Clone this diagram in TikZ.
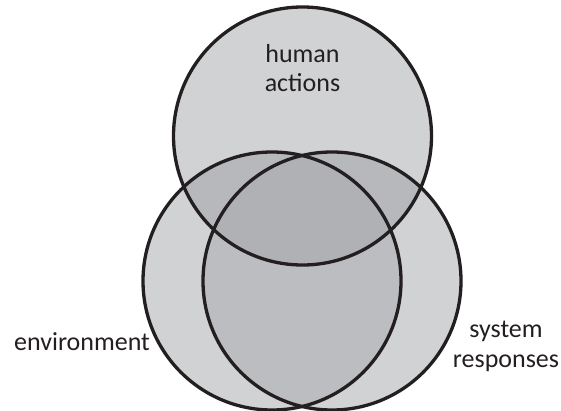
\documentclass[tikz,border=0pt]{standalone}
\usepackage{fontspec}
\setmainfont{Carlito}
\usepackage{tikz}
\definecolor{ring}{HTML}{231F20}
\definecolor{one}{HTML}{D1D2D4}
\definecolor{lens}{HTML}{BCBDC0}
\definecolor{two}{HTML}{B7B8BB}
\definecolor{three}{HTML}{B0B1B4}

\begin{document}
\begin{tikzpicture}[x=1pt,y=1pt,
    lbl/.style={align=center,inner sep=0pt,text=ring,
      font=\fontsize{26}{29.5}\selectfont}]
        \useasboundingbox (0,0) rectangle (561,410);
        \def\rad{129}
        \coordinate (act) at (302.5,274);
        \coordinate (env) at (272,129);
        \coordinate (sys) at (332,129);
        % Plain areas
        \fill[one] (act) circle (\rad) (env) circle (\rad) (sys) circle (\rad);
        % Overlaps
        \begin{scope}
          \clip (env) circle (\rad);
          \fill[lens] (sys) circle (\rad);
        \end{scope}
        \begin{scope}
          \clip (act) circle (\rad);
          \fill[two] (env) circle (\rad) (sys) circle (\rad);
        \end{scope}
        \begin{scope}
          \clip (act) circle (\rad);
          \clip (env) circle (\rad);
          \fill[three] (sys) circle (\rad);
        \end{scope}
        % Outlines
        \draw[ring, line width=3.3pt] (act) circle (\rad);
        \draw[ring, line width=3.3pt] (env) circle (\rad);
        \draw[ring, line width=3.3pt] (sys) circle (\rad);
        %
        % Labels (base = last line):
        \node[lbl, anchor=base] (actions) at (302.5,318) {human\\actions};
        \node[lbl, anchor=base west] (environment) at (14,60) {environment};
        \node[lbl, anchor=base] (responses) at (506,43) {system\\responses};
\end{tikzpicture}
\end{document}
